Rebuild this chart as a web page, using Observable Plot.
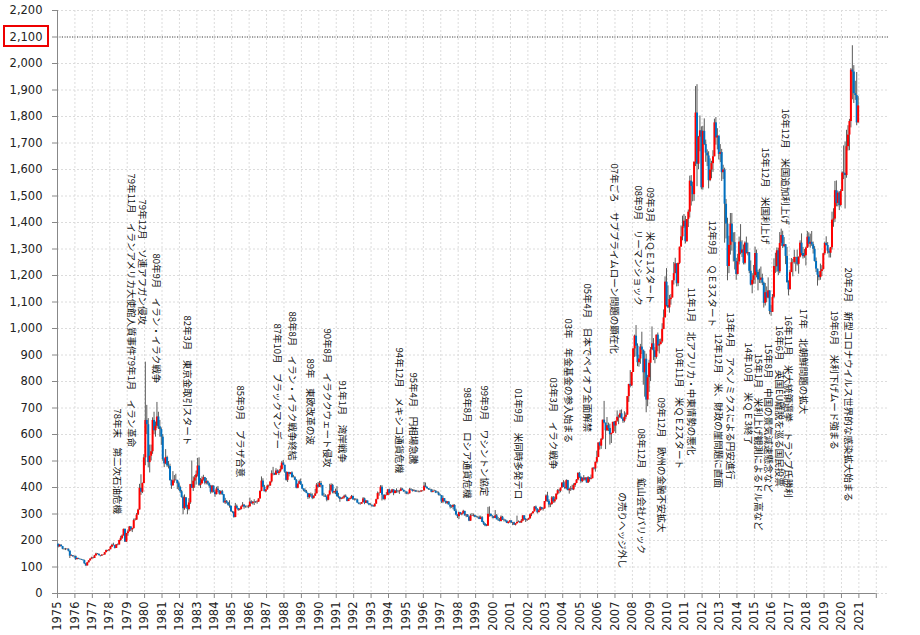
<!DOCTYPE html>
<html><head><meta charset="utf-8">
<script src="https://cdn.jsdelivr.net/npm/d3@7"></script>
<script src="https://cdn.jsdelivr.net/npm/@observablehq/plot@0.6"></script>
<style>
body{margin:0;background:#fff;}
#chart{position:relative;width:920px;height:635px;}
#box{position:absolute;left:3px;top:25px;width:46px;height:22px;box-sizing:border-box;border:2px solid #ee0000;}
#stub{position:absolute;left:49px;top:36px;width:8px;height:0;border-top:1px dotted #444;}
</style></head><body>
<div id="chart"><div id="box"></div><div id="stub"></div></div>
<script>
// Monthly gold price (USD/oz), Jan 1975 - Dec 2020
const firstOpen = 186;
const close = [
176,182,177,167,167,166,167,160,141,143,139,140,
128,132,129,128,126,124,112,104,116,123,130,134,
132,142,149,148,143,141,145,145,154,162,161,165,
175,182,181,170,184,183,200,208,217,242,194,226,
233,251,240,245,275,277,296,315,397,382,415,512,
653,637,494,518,535,653,614,631,666,629,619,590,
506,489,513,482,479,426,406,425,428,427,414,400,
384,362,320,361,325,317,342,411,397,424,436,448,
481,408,414,429,437,416,422,414,405,382,405,382,
373,394,388,375,384,373,342,348,342,333,329,309,
306,287,329,321,314,317,327,333,326,325,325,327,
345,339,344,345,343,345,357,385,424,401,384,391,
405,406,421,452,451,447,462,453,459,468,492,484,
458,427,457,449,455,437,437,427,397,412,422,410,
394,388,383,377,362,373,368,359,367,376,409,401,
415,408,368,368,363,352,372,387,408,380,384,386,
366,362,355,357,361,367,362,347,354,358,366,353,
354,353,341,337,337,343,357,340,349,339,334,333,
330,327,337,354,377,378,401,371,355,370,370,391,
378,381,391,377,387,385,384,386,394,389,383,383,
375,376,391,389,385,387,383,383,384,383,387,387,
405,400,396,392,390,382,385,386,379,379,371,369,
345,358,348,340,345,334,326,325,332,311,296,290,
305,297,301,310,293,296,288,273,293,292,294,288,
287,287,279,286,268,262,255,254,299,299,291,290,
283,293,278,276,272,288,276,277,273,264,269,274,
266,267,258,263,268,270,266,273,293,279,275,277,
282,297,301,308,326,318,305,312,324,317,319,347,
368,348,334,336,361,346,354,375,388,386,398,417,
400,396,426,388,393,395,391,407,415,428,453,438,
422,435,428,436,417,437,430,433,473,470,495,513,
568,556,582,654,643,614,633,623,599,604,646,632,
650,665,663,678,659,650,665,673,743,789,783,834,
923,971,933,871,885,930,918,833,884,730,814,869,
919,942,916,891,975,934,939,949,996,1040,1175,1087,
1078,1109,1115,1180,1207,1244,1169,1246,1307,1346,1383,1405,
1327,1411,1439,1556,1536,1505,1628,1813,1620,1722,1746,1531,
1744,1694,1662,1651,1558,1598,1622,1648,1776,1719,1726,1657,
1664,1588,1598,1469,1394,1234,1314,1394,1326,1324,1253,1204,
1251,1326,1284,1296,1246,1322,1282,1286,1216,1164,1182,1199,
1283,1212,1183,1182,1190,1171,1095,1135,1115,1142,1064,1061,
1118,1234,1233,1293,1214,1321,1351,1309,1316,1272,1173,1146,
1211,1248,1249,1268,1268,1242,1269,1322,1283,1271,1275,1303,
1345,1318,1325,1316,1299,1253,1224,1201,1192,1215,1222,1282,
1321,1313,1292,1284,1305,1409,1413,1520,1472,1511,1464,1517,
1587,1585,1577,1686,1730,1781,1975,1968,1886,1879,1776,1840
];
const high = [
186,185,184,177,170,170,168,168,160,146,143,141,
141,134,133,130,129,127,126,113,117,124,131,137,
137,144,152,151,149,143,146,147,155,164,163,165,
178,186,190,182,184,187,201,216,221,243,243,227,
240,253,252,246,281,283,302,318,412,448,417,524,
873,710,660,560,560,663,684,647,721,684,653,625,
600,510,543,518,498,488,428,460,445,450,420,421,
405,389,368,372,361,333,358,412,500,440,445,462,
510,512,434,440,446,438,434,425,417,408,408,406,
388,401,404,386,387,389,372,359,351,344,350,330,
310,308,340,334,320,320,330,343,336,330,331,333,
360,350,347,354,347,350,357,388,440,433,408,392,
409,409,421,463,476,454,471,466,465,481,498,502,
477,442,457,456,456,459,446,441,430,414,428,432,
412,395,395,389,378,377,379,376,368,393,415,419,
423,423,404,378,373,368,372,412,414,412,385,394,
403,378,364,361,364,371,372,363,359,361,370,368,
358,358,356,342,342,343,362,360,351,347,337,339,
334,332,338,356,383,380,407,407,371,373,381,392,
394,387,393,390,388,395,389,389,399,396,390,386,
381,380,396,396,392,392,389,389,387,386,389,388,
419,417,403,396,395,393,391,390,388,385,383,375,
368,368,354,348,347,347,333,332,336,335,318,297,
307,306,303,314,310,298,298,290,299,302,300,296,
292,291,292,292,290,272,264,260,325,327,300,294,
290,313,298,287,283,293,291,281,277,274,270,275,
271,268,269,263,292,274,272,279,293,293,283,280,
284,300,303,309,328,330,320,316,327,325,323,347,
372,382,354,341,366,366,364,376,392,393,398,417,
426,421,429,427,397,404,409,414,416,430,456,457,
442,436,445,436,434,441,437,447,473,476,496,537,
568,572,585,654,725,640,664,643,639,605,646,649,
650,689,673,691,693,663,686,681,743,789,841,834,
924,975,1011,942,899,940,986,913,913,903,823,880,
928,1006,962,928,975,983,959,960,1018,1070,1195,1226,
1161,1125,1128,1180,1249,1265,1210,1246,1307,1387,1424,1430,
1423,1411,1447,1575,1577,1552,1628,1913,1920,1725,1802,1761,
1763,1791,1711,1674,1667,1640,1631,1671,1790,1796,1754,1723,
1694,1676,1616,1605,1487,1416,1348,1434,1434,1361,1362,1265,
1280,1345,1392,1331,1315,1327,1345,1322,1286,1255,1207,1238,
1307,1296,1220,1224,1232,1205,1175,1170,1157,1191,1142,1088,
1128,1263,1284,1304,1303,1362,1375,1367,1343,1317,1306,1180,
1220,1264,1261,1295,1269,1296,1270,1331,1357,1306,1298,1307,
1366,1361,1356,1366,1326,1309,1266,1220,1214,1243,1237,1284,
1326,1346,1324,1300,1306,1439,1452,1555,1557,1518,1516,1524,
1591,1689,1704,1748,1765,1789,1981,2067,1992,1933,1966,1875
];
const low = [
172,175,176,165,163,162,164,157,132,140,137,133,
125,127,128,126,125,123,110,103,104,115,123,129,
130,132,141,146,142,138,140,143,145,154,158,158,
165,173,179,168,170,180,183,196,204,217,193,193,
216,232,234,230,243,274,276,295,315,370,377,425,
482,600,474,455,500,525,600,590,622,619,590,559,
499,475,486,476,470,424,393,407,416,425,392,388,
378,360,297,314,320,297,312,336,397,385,397,409,
440,404,396,412,424,410,410,409,397,375,378,380,
363,372,381,371,371,370,341,336,338,330,322,306,
301,284,286,318,310,312,315,326,318,322,322,320,
331,337,334,332,340,337,344,356,384,400,384,380,
390,398,404,417,444,445,445,452,445,455,465,482,
454,424,419,440,448,436,436,426,395,395,413,408,
392,384,381,377,355,357,364,354,356,366,377,398,
400,398,368,363,363,346,350,368,384,376,375,373,
363,358,344,354,356,357,362,346,347,357,356,353,
349,350,341,335,333,338,343,335,341,338,331,331,
326,326,326,337,354,367,378,349,353,350,368,369,
371,376,380,369,377,378,379,374,385,388,382,375,
373,372,377,389,383,384,382,381,380,380,382,384,
387,399,393,389,389,380,380,384,377,377,368,367,
340,339,345,336,335,335,319,321,316,309,293,283,
279,296,293,299,292,286,287,271,272,291,289,286,
285,282,279,279,268,257,252,252,254,288,289,282,
282,283,279,272,270,270,276,270,269,264,262,266,
264,256,257,255,263,267,264,265,271,276,268,272,
277,280,290,301,308,314,300,305,311,314,311,318,
344,344,323,324,333,340,341,352,371,376,380,399,
401,392,391,388,375,385,390,388,400,414,425,434,
416,418,424,424,416,415,420,429,433,466,458,490,
525,541,544,578,640,543,611,611,560,566,608,610,
603,646,637,662,658,642,644,656,678,721,776,781,
848,891,893,856,854,865,902,786,741,682,705,759,
800,919,879,867,884,912,904,939,944,1002,1042,1081,
1075,1058,1088,1115,1164,1217,1157,1158,1241,1316,1331,1377,
1319,1330,1381,1417,1462,1478,1480,1611,1535,1600,1667,1523,
1522,1691,1627,1611,1527,1554,1565,1589,1658,1692,1674,1636,
1626,1555,1562,1322,1338,1180,1207,1277,1292,1251,1221,1182,
1202,1240,1278,1268,1240,1240,1282,1274,1207,1161,1131,1167,
1167,1191,1142,1170,1169,1162,1077,1085,1098,1112,1052,1046,
1062,1112,1208,1212,1200,1207,1310,1302,1305,1241,1171,1123,
1147,1216,1195,1243,1214,1236,1205,1266,1274,1262,1265,1236,
1302,1307,1303,1310,1281,1251,1211,1160,1180,1182,1196,1221,
1276,1311,1281,1266,1266,1296,1382,1400,1459,1459,1445,1459,
1517,1562,1451,1567,1670,1671,1757,1863,1849,1861,1765,1775
];

// Event annotations: label, date (year), price level where the text begins
const noteLabels = [
"78年末　第二次石油危機",
"79年1月　イラン革命",
"79年11月　イランアメリカ大使館人質事件",
"79年12月　ソ連アフガン侵攻",
"80年9月　イラン・イラク戦争",
"82年3月　東京金取引スタート",
"85年9月　プラザ合意",
"87年10月　ブラックマンデー",
"88年8月　イラン・イラク戦争終結",
"89年　東欧改革の波",
"90年8月　イラククウェート侵攻",
"91年1月　湾岸戦争",
"94年12月　メキシコ通貨危機",
"95年4月　円相場急騰",
"98年8月　ロシア通貨危機",
"99年9月　ワシントン協定",
"01年9月　米同時多発テロ",
"03年3月　イラク戦争",
"03年　年金基金の参入始まる",
"05年4月　日本でペイオフ全面解禁",
"07年ごろ　サブプライムローン問題の顕在化",
"08年9月　リーマンショック",
"09年3月　米ＱＥ1スタート",
"08年12月　鉱山会社バリック",
"の売りヘッジ外し",
"09年12月　欧州の金融不安拡大",
"10年11月　米ＱＥ2スタート",
"11年1月　北アフリカ・中東情勢の悪化",
"12年9月　ＱＥ3スタート",
"12年12月　米、財政の崖問題に直面",
"13年4月　アベノミクスによる円安進行",
"14年10月　米ＱＥ3終了",
"15年1月　米利上げ観測によるドル高など",
"15年8月　中国の景気減速懸念など",
"16年6月　英国EU離脱を巡る国民投票",
"16年11月　米大統領選挙　トランプ氏勝利",
"15年12月　米国利上げ",
"16年12月　米国追加利上げ",
"17年　北朝鮮問題の拡大",
"19年6月　米利下げムード強まる",
"20年2月　新型コロナウイルス世界的な感染拡大始まる"
];
const noteDate = [1978.44,1979.25,1979.25,1979.88,1980.68,1982.41,1985.45,1987.63,1988.49,1989.47,1990.50,1991.36,1994.58,1995.38,1998.48,1999.51,2001.46,2003.47,2004.33,2005.42,2006.92,2008.30,2009.04,2008.47,2007.43,2009.62,2010.65,2011.34,2012.60,2012.89,2013.63,2014.61,2015.24,2015.81,2016.39,2016.96,2015.64,2016.79,2017.77,2019.55,2020.35];
const noteLevel = [698,898,1585,1487,1283,1049,785,1019,1064,887,1000,804,928,834,777,785,774,815,1038,1170,1623,1540,1532,623,381,740,928,1155,1408,981,1060,947,906,943,1011,1049,1683,1830,1075,1068,1230];

const yTicks = d3.range(0, 2201, 100);
const yearTicks = d3.range(1975, 2023);
const refLevel = 2100;

const rows = close.map((c, i) => {
  const o = i ? close[i - 1] : firstOpen;
  return {t: 1975 + (i + 0.5) / 12, o, c,
          h: Math.max(high[i], o, c), l: Math.min(low[i], o, c)};
});
const notes = noteLabels.map((label, i) => ({label, t: noteDate[i], v: noteLevel[i]}));

const chart = Plot.plot({
  width: 920, height: 635,
  marginLeft: 57, marginRight: 32, marginTop: 10, marginBottom: 42,
  x: {domain: [1975, 2022.7], label: null},
  y: {domain: [0, 2200], label: null},
  style: {fontFamily: "DejaVu Sans", fontSize: "11px", color: "#222", background: "#fff"},
  marks: [
    Plot.gridY({ticks: yTicks, stroke: "#dcdcdc", strokeOpacity: 1, strokeDasharray: "2,2"}),
    Plot.gridX({ticks: yearTicks, stroke: "#dcdcdc", strokeOpacity: 1, strokeDasharray: "2,2"}),
    Plot.ruleY([refLevel], {stroke: "#444", strokeDasharray: "1,1.5"}),
    Plot.ruleX([yearTicks[0]], {stroke: "#888"}),
    Plot.ruleY([0], {x1: yearTicks[0], x2: yearTicks[yearTicks.length - 1], stroke: "#888"}),
    Plot.axisY({ticks: yTicks, tickSize: 5, tickPadding: 10, tickFormat: d3.format(","), stroke: "#888", fill: "#222", fontSize: 11.5, label: null}),
    Plot.axisX({ticks: yearTicks, tickSize: 5, tickPadding: 3, tickRotate: -90, label: null,
      tickFormat: d => d === 2022 ? "" : String(d), stroke: "#888", fill: "#222", fontSize: 11.5}),
    Plot.ruleX(rows, {x: "t", y1: "l", y2: "h", stroke: "#5a5a5a", strokeWidth: 1}),
    Plot.ruleX(rows, {x: "t", y1: "o", y2: "c", strokeWidth: 2,
      stroke: d => d.c >= d.o ? "#ff0000" : "#0070c0"}),
    Plot.text(notes, {x: "t", y: "v", text: "label", rotate: 90, textAnchor: "start",
      lineAnchor: "middle", fontSize: 9.5, fontFamily: "Noto Sans CJK JP", fill: "#111"})
  ]
});
document.getElementById("chart").appendChild(chart);
chart.style.position = "absolute";
chart.style.left = "0";
chart.style.top = "0";
document.getElementById("box").style.zIndex = 2;
</script>
</body></html>
